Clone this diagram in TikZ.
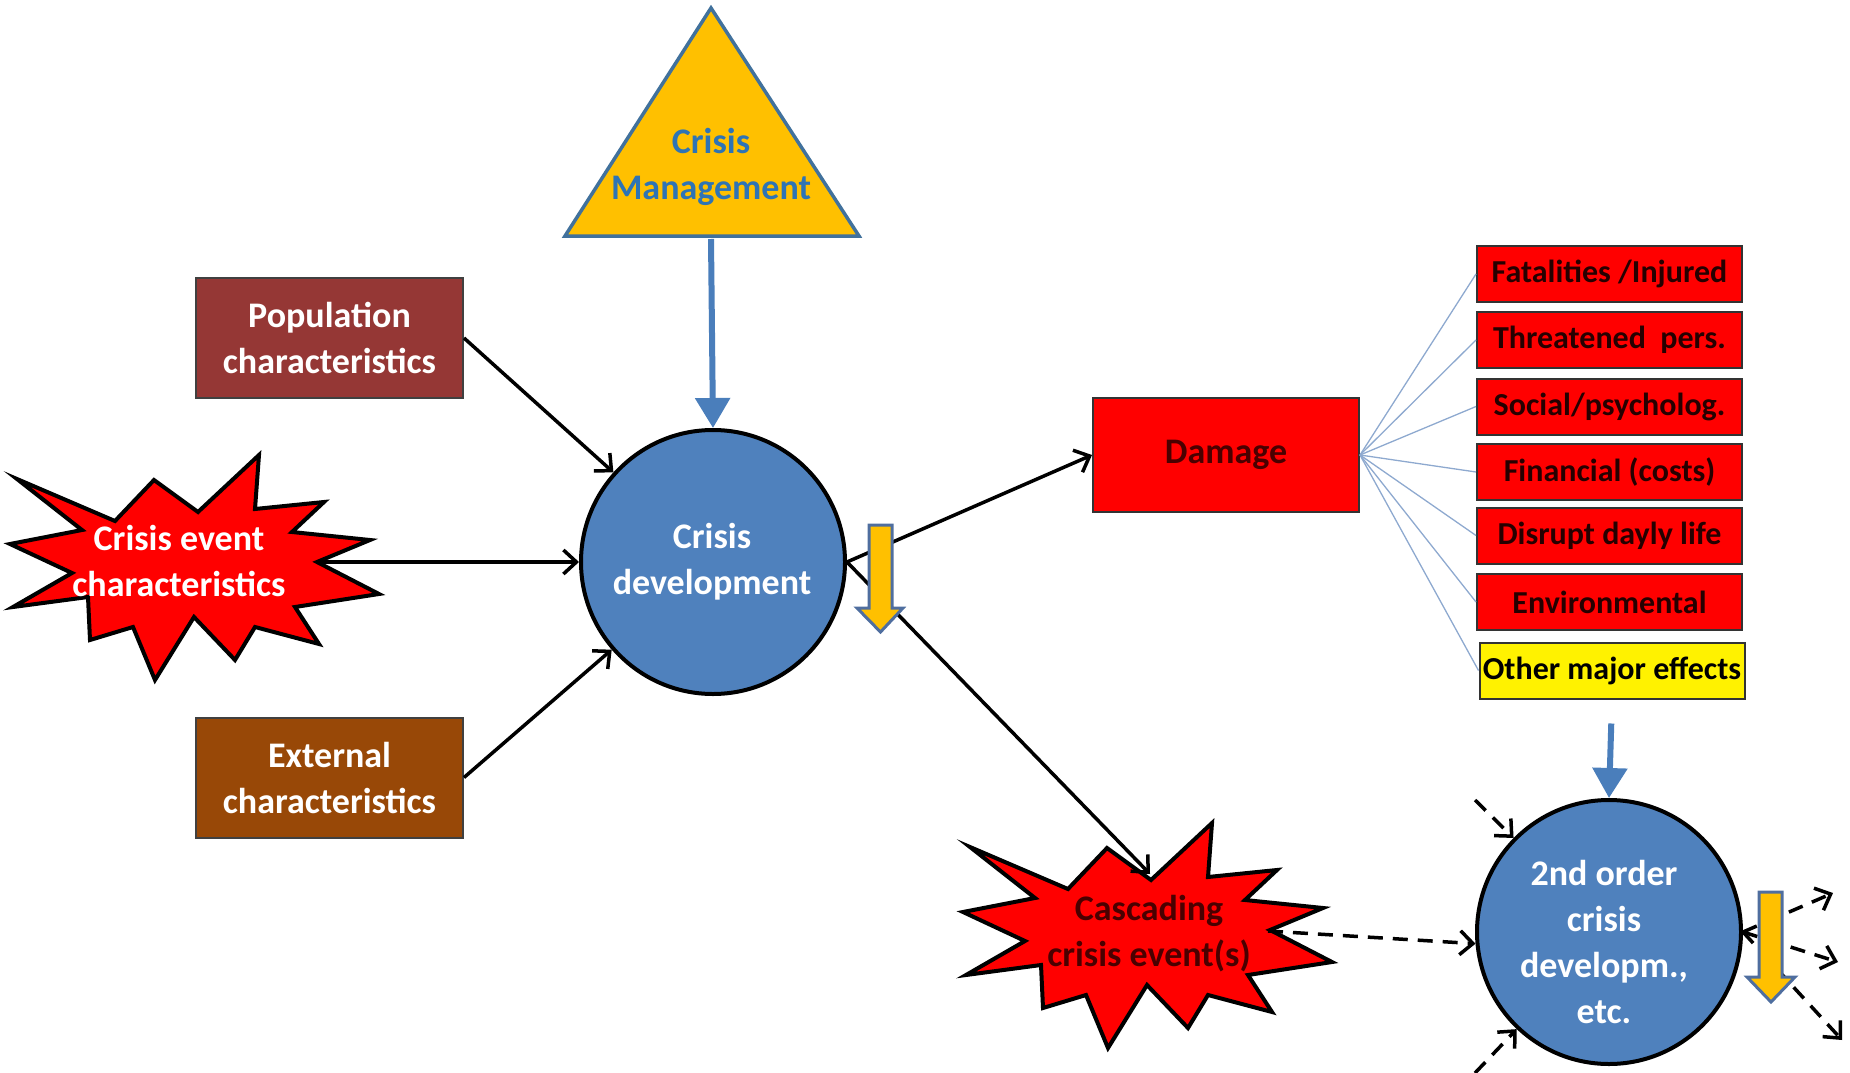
\documentclass[tikz,border=0pt]{standalone}
\usepackage{fontspec}
\setmainfont{Carlito}
\usetikzlibrary{arrows.meta}
\definecolor{popc}{HTML}{953735}
\definecolor{extc}{HTML}{984807}
\definecolor{circc}{HTML}{4F81BD}
\definecolor{trifill}{HTML}{FFC000}
\definecolor{triedge}{HTML}{41719C}
\definecolor{bluearr}{HTML}{4A7EBB}
\definecolor{mgmttext}{HTML}{2E74B5}
\definecolor{darkred}{HTML}{4A0000}
\definecolor{efftext}{HTML}{260000}
\definecolor{thinblue}{HTML}{8EA9CF}
\definecolor{yedge}{HTML}{4F6E9F}
\begin{document}
\begin{tikzpicture}[x=1pt,y=-1pt,
  bigtext/.style={font=\bfseries\fontsize{36}{46}\selectfont, align=center},
  box/.style={draw=black!75, line width=2pt, minimum width=267pt, minimum height=120pt, inner sep=0pt, bigtext, text=white},
  effbox/.style={draw=black!80, line width=2pt, fill=red, minimum width=265pt, minimum height=56pt, inner sep=0pt, font=\bfseries\fontsize{32}{36}\selectfont, text=efftext},
  crc/.style={circle, draw=black, line width=4pt, fill=circc, minimum size=264pt, inner sep=0pt},
  burst/.style={fill=red, draw=black, line width=4pt, line join=miter},
  burstpic/.pic={\draw[burst] (7,24) -- (105,66) -- (144,25) -- (188,57) -- (249,0) -- (245,54) -- (314,47) -- (282,77) -- (360,85) -- (307,107) -- (369,139) -- (285,152) -- (309,189) -- (245,172) -- (225,205) -- (184,162) -- (145,225) -- (123,172) -- (80,185) -- (78,142) -- (3,152) -- (62,118) -- (0,89) -- (72,75) -- cycle;},
  blk/.style={draw=black, line width=3.5pt, -{Straight Barb[length=13pt,width=24pt]}},
  dsh/.style={blk, dash pattern=on 15pt off 10pt},
  bluethick/.style={draw=bluearr, line width=6pt, -{Triangle[width=34pt,length=30pt]}},
  thinl/.style={draw=thinblue, line width=1.3pt},
  yarrow/.style={fill=trifill, draw=yedge, line width=3pt, line join=miter}
]
\useasboundingbox (0,0) rectangle (1850,1073);

% Crisis management triangle
\draw[fill=trifill, draw=triedge, line width=3.5pt, line join=miter] (711,8) -- (859,236) -- (565,236) -- cycle;
\node[bigtext, text=mgmttext] (cm) at (711,167) {Crisis\\Management};
\coordinate (cmb) at (711,239);

% left boxes
\node[box, fill=popc] (pop) at (329.5,338) {Population\\characteristics};
\node[box, fill=extc] (ext) at (329.5,777.5) {External\\characteristics};

% crisis event burst
\pic at (10,455) {burstpic};
\node[bigtext, text=white] (ev) at (179,561) {Crisis event\\characteristics};
\coordinate (evR) at (317,562);

% main circle
\node[crc] (cd) at (713,562) {};
\node[bigtext, text=white] (cdt) at (712,562) {Crisis\\development};

% damage
\node[draw=black!80, line width=2pt, fill=red, minimum width=266pt, minimum height=114pt, inner sep=0pt, bigtext, text=darkred] (dmg) at (1226,455) {Damage};

% effects
\node[effbox] (e1) at (1609.5,274) {Fatalities /Injured};
\node[effbox] (e2) at (1609.5,340) {Threatened~~pers.};
\node[effbox] (e3) at (1609.5,406.5) {Social/psycholog.};
\node[effbox] (e4) at (1609.5,472) {Financial (costs)};
\node[effbox] (e5) at (1609.5,535.5) {Disrupt dayly life};
\node[effbox] (e6) at (1609.5,602) {Environmental};
\node[effbox, fill=yellow, text=black] (e7) at (1612,670.5) {Other major effects};
\foreach \i in {1,...,7} {\draw[thinl] (dmg.east) -- (e\i.west);}

% cascading burst
\pic at (963,823) {burstpic};
\node[bigtext, text=darkred] (cas) at (1149,934) {Cascading\\crisis event(s)};
\coordinate (casT) at (1150,874);
\coordinate (casR) at (1268,931);

% second order circle
\node[crc] (c2) at (1609,932) {};
\node[bigtext, text=white] (c2t) at (1604,942) {2nd order\\crisis\\developm.,\\etc.};

% connectors
\draw[bluethick] (cmb) -- (cd.north);
\draw[bluethick, shorten <=24pt] (e7.south) -- (c2.north);
\draw[blk] (pop.east) -- (cd);
\draw[blk] (evR) -- (cd.west);
\draw[blk] (ext.east) -- (cd);
\draw[blk] (cd.east) -- (dmg.west);
\draw[blk] (cd.east) -- (casT);

\coordinate (d1) at (1475,800);
\coordinate (d2) at (1475,1073);
\coordinate (o1) at (1833,893);
\coordinate (o2) at (1838,962);
\coordinate (o3) at (1842,1040);
\draw[dsh] (casR) -- (c2.185);
\draw[dsh] (d1) -- (c2);
\draw[dsh] (d2) -- (c2);
\draw[dsh] (c2.east) -- (o1);
\draw[dsh] (c2.east) -- (o2);
\draw[dsh] (c2.east) -- (o3);

% yellow down arrows
\draw[yarrow] (869,525) -- (892,525) -- (892,608) -- (903,608) -- (880.5,632) -- (857,608) -- (869,608) -- cycle;
\draw[yarrow] (1759,892) -- (1782,892) -- (1782,977) -- (1795,977) -- (1771,1002) -- (1747,977) -- (1759,977) -- cycle;
\end{tikzpicture}
\end{document}
